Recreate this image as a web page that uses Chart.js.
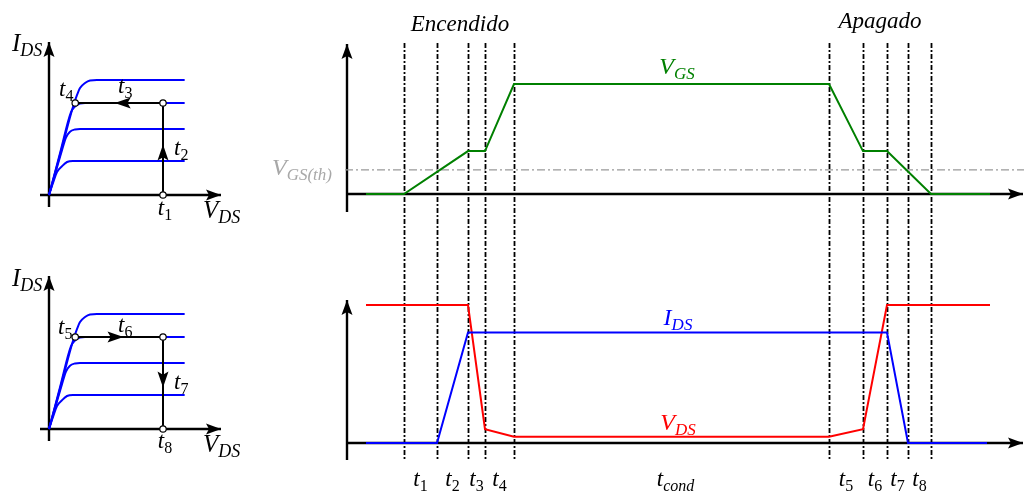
<!DOCTYPE html>
<html lang="es">
<head>
<meta charset="utf-8">
<title>Conmutación del MOSFET</title>
<script src="https://cdn.jsdelivr.net/npm/chart.js@4.4.0/dist/chart.umd.min.js"></script>
<style>
  html, body { margin:0; padding:0; background:#fff; }
  #graph { display:block; }
</style>
</head>
<body>
<canvas id="graph" width="1024" height="493"></canvas>
<script>
// limites de los intervalos t1..t8 (eje de tiempo, 1 unidad = 5 px)
var tLimits = [11.4, 18, 24.2, 27.6, 33.4, 96.4, 103.2, 108, 112.2, 116.8];
var tNames  = ['1', '2', '3', '4', 'cond', '5', '6', '7', '8'];

// tension de puerta
var vgsTime = [3.8, 11.4, 24.2, 27.6, 33.4, 96.4, 103.2, 108, 116.8, 128.6];
var vgsVal  = [0, 0, 3.9, 3.9, 10, 10, 3.9, 3.9, 0, 0];
var vgsTh   = 2.2;

// corriente y tension de drenador
var idsTime = [3.8, 18, 24.2, 108, 112.2, 128];
var idsVal  = [0, 0, 8, 8, 0, 0];
var vdsTime = [3.8, 24.2, 27.6, 33.4, 96.4, 103.2, 108, 128.6];
var vdsVal  = [10, 10, 1.0, 0.45, 0.45, 1.0, 10, 10];

// curvas de salida [V_DS, I_DS]
var curveA = [[0,0],[1.05,3.8],[2.1,7.65],[2.46,8.7],[2.72,9.3],[3.16,9.74],[3.6,9.96],[4.2,10],[11.9,10]];
var curveB = [[0,0],[0.96,3.6],[1.93,7.2],[2.28,7.7],[2.72,7.96],[3.16,8],[11.9,8]];
var curveC = [[0,0],[0.57,1.95],[1.14,3.9],[1.49,5.0],[1.84,5.5],[2.28,5.7],[2.72,5.74],[11.9,5.74]];
var curveD = [[0,0],[0.35,1.04],[0.7,2.0],[1.14,2.5],[1.58,2.87],[2.1,2.96],[11.9,2.96]];

// trayectoria del punto de trabajo
var onPath  = [[10,0],[10,8],[2.3,8]];   // t1 -> t2 -> t3/t4
var offPath = [[2.3,8],[10,8],[10,0]];   // t5 -> t6 -> t7/t8

var W = 1024, H = 493;
var SERIF = '"Liberation Serif", "DejaVu Serif", serif';

function span(zeroPx, pxPerUnit, size, vertical) {
  if (vertical) {
    var max = zeroPx / pxPerUnit;
    return { min: max - size / pxPerUnit, max: max };
  }
  var min = -zeroPx / pxPerUnit;
  return { min: min, max: min + size / pxPerUnit };
}
function scale(axis, s) {
  return Object.assign({ type: 'linear', axis: axis, display: false }, s);
}
function xy(xs, ys) { return xs.map(function (x, i) { return { x: x, y: ys[i] }; }); }
function pairs(p) { return p.map(function (q) { return { x: q[0], y: q[1] }; }); }

function wave(data, color, yId) {
  return { data: data, xAxisID: 'xT', yAxisID: yId, borderColor: color,
           borderWidth: 2, pointRadius: 0, tension: 0, fill: false };
}
function curve(c, yId) {
  return { data: pairs(c), xAxisID: 'xV', yAxisID: yId, borderColor: '#0000ff',
           borderWidth: 2, pointRadius: 0, cubicInterpolationMode: 'monotone', fill: false };
}
function path(p, yId) {
  return { data: pairs(p), xAxisID: 'xV', yAxisID: yId, borderColor: '#000',
           borderWidth: 2, tension: 0, pointRadius: 3.2, pointBorderWidth: 1.2,
           pointBackgroundColor: '#fff', pointBorderColor: '#000', fill: false, order: -1 };
}

function arrowHead(ctx, x, y, dx, dy, len, half) {
  var px = -dy, py = dx;
  ctx.beginPath();
  ctx.moveTo(x, y);
  ctx.lineTo(x - dx * len + px * half, y - dy * len + py * half);
  ctx.lineTo(x - dx * len * 0.8, y - dy * len * 0.8);
  ctx.lineTo(x - dx * len - px * half, y - dy * len - py * half);
  ctx.closePath();
  ctx.fill();
}
function axisLine(ctx, x1, y1, x2, y2) {
  ctx.beginPath(); ctx.moveTo(x1, y1); ctx.lineTo(x2, y2); ctx.stroke();
  var l = Math.hypot(x2 - x1, y2 - y1);
  arrowHead(ctx, x2, y2, (x2 - x1) / l, (y2 - y1) / l, 15, 5.5);
}
function mathLabel(ctx, base, sub, x, y, color, size, align, subUpright) {
  var f1 = 'italic ' + size + 'px ' + SERIF;
  var f2 = (subUpright ? '' : 'italic ') + Math.round(size * 0.7) + 'px ' + SERIF;
  ctx.font = f1; var w1 = ctx.measureText(base).width;
  ctx.font = f2; var w2 = ctx.measureText(sub).width;
  var left = align === 'center' ? x - (w1 + w2) / 2 : x;
  ctx.fillStyle = color; ctx.textAlign = 'left'; ctx.textBaseline = 'alphabetic';
  ctx.font = f1; ctx.fillText(base, left, y);
  ctx.font = f2; ctx.fillText(sub, left + w1, y + size * 0.2);
}

var decor = {
  id: 'decor',
  beforeDatasetsDraw: function (chart) {
    var ctx = chart.ctx, s = chart.scales;
    ctx.save();
    ctx.strokeStyle = '#000'; ctx.fillStyle = '#000'; ctx.lineWidth = 2.4;
    // ejes de las curvas de salida
    var x0 = s.xV.getPixelForValue(0);
    [s.yI1, s.yI2].forEach(function (y) {
      var y0 = y.getPixelForValue(0);
      axisLine(ctx, x0, y0 + 12, x0, y0 - 153);
      axisLine(ctx, x0 - 9, y0, 221, y0);
    });
    // ejes de las formas de onda
    var t0 = s.xT.getPixelForValue(0);
    var g0 = s.yG.getPixelForValue(0), w0 = s.ySw.getPixelForValue(0);
    axisLine(ctx, t0, g0 + 18, t0, 44);
    axisLine(ctx, t0, g0, 1023, g0);
    axisLine(ctx, t0, w0 + 17, t0, 300);
    axisLine(ctx, t0, w0, 1023, w0);
    // umbral V_GS(th)
    var th = s.yG.getPixelForValue(vgsTh);
    ctx.strokeStyle = '#999'; ctx.lineWidth = 1.3; ctx.setLineDash([8, 3, 2, 3]);
    ctx.beginPath(); ctx.moveTo(t0 - 2, th); ctx.lineTo(W, th); ctx.stroke();
    // limites de los intervalos
    ctx.strokeStyle = '#000'; ctx.lineWidth = 1.8; ctx.setLineDash([5, 2, 2, 2]);
    tLimits.forEach(function (t) {
      var x = Math.round(s.xT.getPixelForValue(t)) + 0.5;
      ctx.beginPath(); ctx.moveTo(x, 43); ctx.lineTo(x, 460); ctx.stroke();
    });
    ctx.restore();
  },
  afterDatasetsDraw: function (chart) {
    var ctx = chart.ctx, s = chart.scales;
    ctx.save();
    ctx.fillStyle = '#000';
    // flechas sobre la trayectoria del punto de trabajo
    [[onPath, s.yI1], [offPath, s.yI2]].forEach(function (pp) {
      var p = pp[0], y = pp[1];
      for (var i = 0; i < p.length - 1; i++) {
        var ax = s.xV.getPixelForValue(p[i][0]), ay = y.getPixelForValue(p[i][1]);
        var bx = s.xV.getPixelForValue(p[i + 1][0]), by = y.getPixelForValue(p[i + 1][1]);
        var l = Math.hypot(bx - ax, by - ay);
        var f = 0.55;
        arrowHead(ctx, ax + (bx - ax) * f, ay + (by - ay) * f, (bx - ax) / l, (by - ay) / l, 16, 5.5);
      }
    });
    // rotulos de las curvas de salida
    mathLabel(ctx, 'I', 'DS', 12, 51, '#000', 25);
    mathLabel(ctx, 'V', 'DS', 203, 218, '#000', 25);
    mathLabel(ctx, 't', '1', 165, 215, '#000', 23, 'center', true);
    mathLabel(ctx, 't', '2', 174, 155, '#000', 23, 'left', true);
    mathLabel(ctx, 't', '3', 118, 93, '#000', 23, 'left', true);
    mathLabel(ctx, 't', '4', 59, 96, '#000', 23, 'left', true);
    mathLabel(ctx, 'I', 'DS', 12, 286, '#000', 25);
    mathLabel(ctx, 'V', 'DS', 203, 452, '#000', 25);
    mathLabel(ctx, 't', '5', 58, 334, '#000', 23, 'left', true);
    mathLabel(ctx, 't', '6', 118, 332, '#000', 23, 'left', true);
    mathLabel(ctx, 't', '7', 174, 389, '#000', 23, 'left', true);
    mathLabel(ctx, 't', '8', 165, 448, '#000', 23, 'center', true);
    // rotulos de las formas de onda
    ctx.font = 'italic 23px ' + SERIF; ctx.textAlign = 'center'; ctx.fillStyle = '#000';
    ctx.fillText('Encendido', 460, 31);
    ctx.fillText('Apagado', 880, 28);
    mathLabel(ctx, 'V', 'GS', 677, 74, '#008000', 24, 'center');
    mathLabel(ctx, 'V', 'GS(th)', 272, 175, '#a8a8a8', 24, 'left');
    mathLabel(ctx, 'I', 'DS', 678, 325, '#0000ff', 24, 'center');
    mathLabel(ctx, 'V', 'DS', 678, 430, '#ff0000', 24, 'center');
    for (var i = 0; i < tNames.length; i++) {
      var mid = (s.xT.getPixelForValue(tLimits[i]) + s.xT.getPixelForValue(tLimits[i + 1])) / 2;
      if (tNames[i] === 'cond') mid += 4;
      mathLabel(ctx, 't', tNames[i], mid, 486, '#000', 23, 'center', tNames[i] !== 'cond');
    }
    ctx.restore();
  }
};

new Chart(document.getElementById('graph'), {
  type: 'line',
  data: {
    datasets: [
      path(onPath, 'yI1'), path(offPath, 'yI2'),
      curve(curveA, 'yI1'), curve(curveB, 'yI1'), curve(curveC, 'yI1'), curve(curveD, 'yI1'),
      curve(curveA, 'yI2'), curve(curveB, 'yI2'), curve(curveC, 'yI2'), curve(curveD, 'yI2'),
      wave(xy(vgsTime, vgsVal), '#008000', 'yG'),
      wave(xy(idsTime, idsVal), '#0000ff', 'ySw'),
      wave(xy(vdsTime, vdsVal), '#ff0000', 'ySw')
    ]
  },
  options: {
    responsive: false,
    animation: false,
    layout: { padding: 0, autoPadding: false },
    plugins: { legend: { display: false }, tooltip: { enabled: false }, title: { display: false } },
    scales: {
      xT:  scale('x', span(347, 5, W)),
      xV:  scale('x', span(49, 11.4, W)),
      yG:  scale('y', span(194, 11, H, true)),
      ySw: scale('y', span(443, 13.8, H, true)),
      yI1: scale('y', span(195, 11.5, H, true)),
      yI2: scale('y', span(429, 11.5, H, true))
    }
  },
  plugins: [decor]
});
</script>
</body>
</html>
